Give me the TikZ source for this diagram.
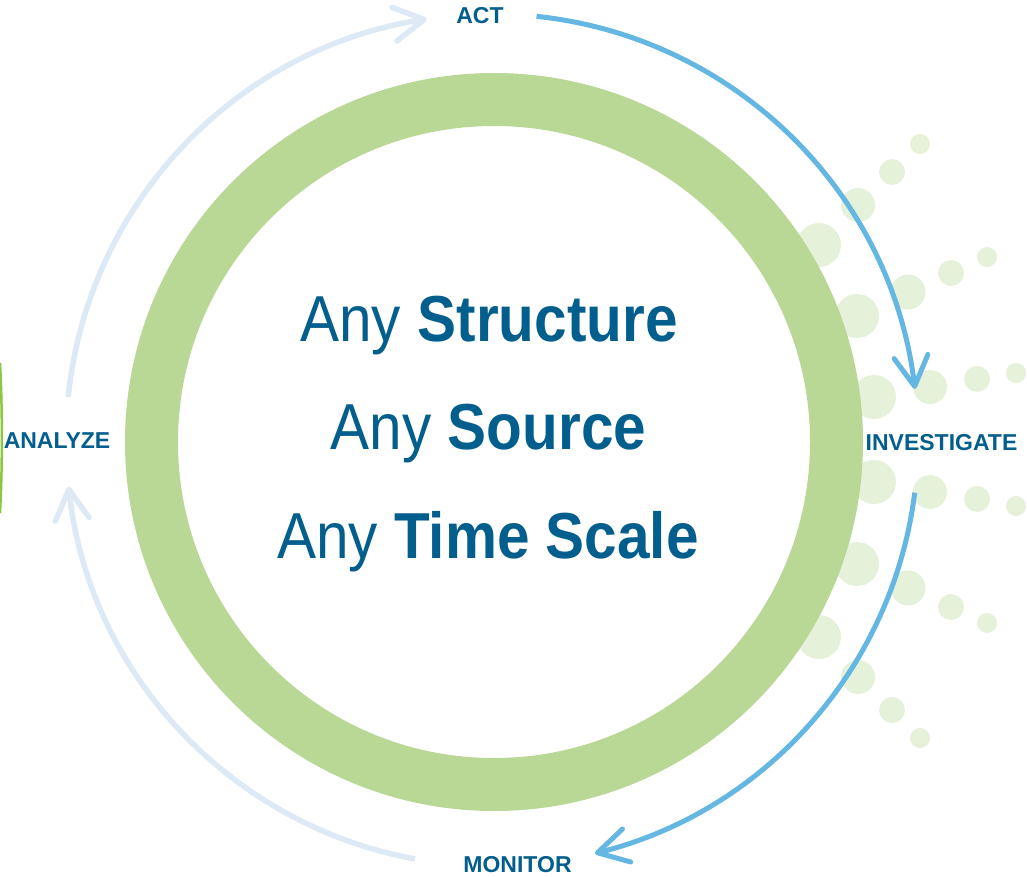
\documentclass[tikz,border=0pt]{standalone}
\usepackage{fontspec}
\setmainfont{Liberation Sans}
\newfontfamily\slogfont{Liberation Sans}[FakeStretch=0.9]
\usetikzlibrary{arrows.meta}
\definecolor{ringgreen}{RGB}{185,216,150}
\definecolor{dotgreen}{RGB}{229,241,217}
\definecolor{edgegreen}{RGB}{141,198,63}
\definecolor{textblue}{RGB}{2,94,140}
\definecolor{cycleblue}{RGB}{99,183,226}
\definecolor{cyclepale}{RGB}{221,233,245}
\begin{document}
\begin{tikzpicture}[x=1pt,y=-1pt]
\tikzstyle{stage} = [font=\bfseries\fontsize{23}{23}\selectfont, text=textblue, anchor=base, inner sep=0pt]
\tikzstyle{slogan} = [font=\slogfont\fontsize{65}{65}\selectfont, text=textblue, anchor=base, inner sep=0pt]
\tikzstyle{cycle} = [line width=5pt, -{Straight Barb[length=30pt,width=34pt,round]}]

\useasboundingbox (0,0) rectangle (1027,877);

% dots fanning out on the right
\foreach \x/\y/\r in {920/144/10, 892/172/13, 858/205/17, 819/245/22,
                      987/257/10, 951/273/13, 908/292/17.5, 857/316/22,
                      1016/373/10, 977/379/13, 930/387/17, 874/397/22,
                      1016/506/10, 977/499/13, 930/492/17, 874/482/22,
                      987/623/10, 951/607/13, 908/588/17.5, 857/564/22,
                      920/738/10, 892/710/13, 858/677/17, 819/637/22}
  \fill[dotgreen] (\x,\y) circle[radius=\r];

% big ring
\coordinate (ringc) at (494,442);
\draw[ringgreen, line width=53pt] (ringc) circle[radius=342.5];

% sliver on the left edge
\draw[edgegreen, line width=2.5pt] (0,363) .. controls (2.5,410) and (2.5,466) .. (0,513);

% text in the middle
\node[slogan] (structure) at (489,341) {Any \textbf{Structure}};
\node[slogan] (source) at (488.5,449) {Any \textbf{Source}};
\node[slogan] (timescale) at (488,558) {Any \textbf{Time Scale}};

% stages
\node[stage] (act) at (480,24) {ACT};
\node[stage] (investigate) at (941.5,450) {INVESTIGATE};
\node[stage] (monitor) at (517.5,872) {MONITOR};
\node[stage] (analyze) at (57,448) {ANALYZE};

% cycle arrows
\coordinate (hub) at (492,440);
\coordinate (analyze-up) at ([shift={(-174.2:426)}]hub);
\coordinate (act-out) at ([shift={(-84:426)}]hub);
\coordinate (investigate-out) at ([shift={(7.1:426)}]hub);
\coordinate (monitor-out) at ([shift={(100.4:426)}]hub);

\draw[cycle, cyclepale, line width=5.5pt] (analyze-up) arc[start angle=-174.2, end angle=-98.8, radius=426];
\draw[cycle, cycleblue] (act-out) arc[start angle=-84, end angle=-6.9, radius=426];
\draw[cycle, cycleblue] (investigate-out) arc[start angle=7.1, end angle=76, radius=426];
\draw[cycle, cyclepale, line width=5.5pt] (monitor-out) arc[start angle=100.4, end angle=173.7, radius=426];
\end{tikzpicture}
\end{document}
